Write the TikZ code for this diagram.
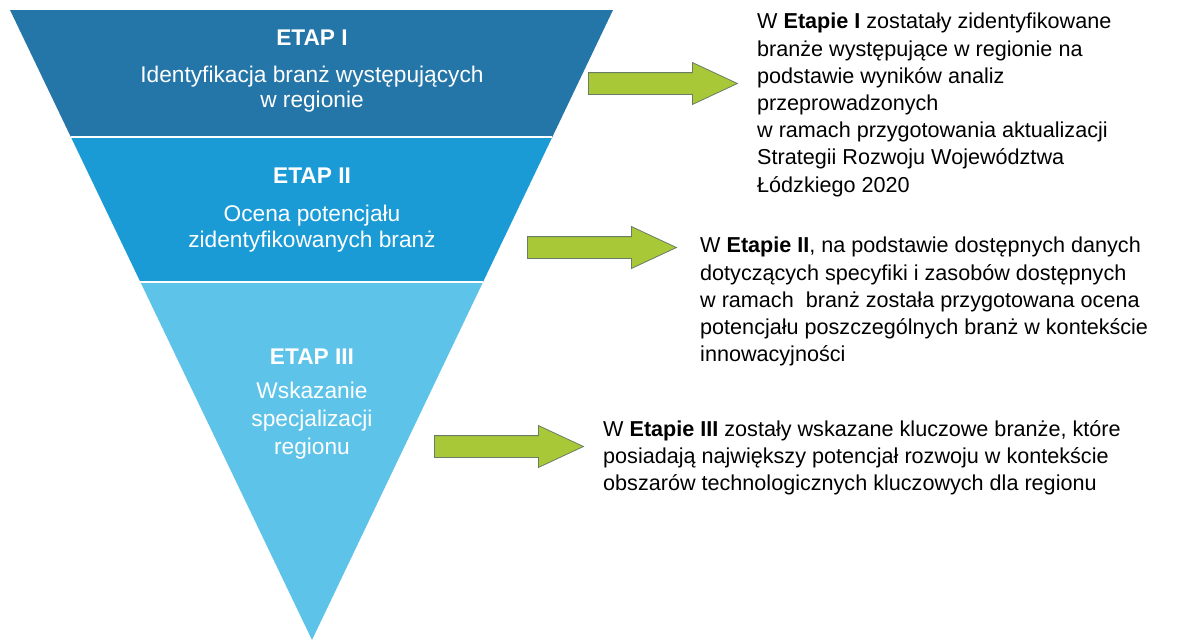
\documentclass[tikz,border=0pt]{standalone}
\usepackage{fontspec}
\setmainfont{Liberation Sans}
\usetikzlibrary{calc}
\usetikzlibrary{shapes.arrows}
\definecolor{etapone}{RGB}{36,117,168}
\definecolor{etaptwo}{RGB}{27,155,214}
\definecolor{etapthree}{RGB}{94,195,232}
\definecolor{arrowfill}{RGB}{168,200,56}
\definecolor{arrowedge}{RGB}{105,125,100}
\newcommand\stagefont[1]{\fontsize{22.7}{#1}\selectfont}
\tikzstyle{cut}=[white,line width=2pt]
\tikzstyle{stage}=[text=white,align=center,inner sep=0pt,anchor=north]
\tikzstyle{note}=[align=left,inner sep=0pt,anchor=north west,font=\fontsize{21.6}{27.2}\selectfont]
\tikzstyle{pointer}=[single arrow,draw=arrowedge,fill=arrowfill,line width=.8pt,
  inner sep=0pt,inner ysep=10.5pt,minimum height=149pt,
  single arrow head extend=10pt,single arrow tip angle=50,single arrow head indent=0pt,anchor=tail]

\begin{document}
\begin{tikzpicture}[x=1pt,y=-1pt]
	\useasboundingbox (0,0) rectangle (1182,641);
	% funnel
	\coordinate (tl) at (10,10);
	\coordinate (tr) at (613,10);
	\coordinate (apex) at (312,640);
	\coordinate (l1) at ($(tl)!0.2016!(apex)$);
	\coordinate (r1) at ($(tr)!0.2016!(apex)$);
	\coordinate (l2) at ($(tl)!0.4317!(apex)$);
	\coordinate (r2) at ($(tr)!0.4317!(apex)$);
	\fill[etapone]   (tl) -- (tr) -- (r1) -- (l1) -- cycle;
	\fill[etaptwo]   (l1) -- (r1) -- (r2) -- (l2) -- cycle;
	\fill[etapthree] (l2) -- (r2) -- (apex) -- cycle;
	\draw[cut] (l1) -- (r1);
	\draw[cut] (l2) -- (r2);

	\node[stage,font=\stagefont{25}] (etap1) at (312,30)
		{\textbf{ETAP I}\\[12pt]Identyfikacja branż występujących\\w regionie};
	\node[stage,font=\stagefont{26}] (etap2) at (312,168)
		{\textbf{ETAP II}\\[12pt]Ocena potencjału\\zidentyfikowanych branż};
	\node[stage,font=\stagefont{28}] (etap3) at (312,349)
		{\textbf{ETAP III}\\[6pt]Wskazanie\\specjalizacji\\regionu};

	% arrows
	\node[pointer] (strzalka1) at (588,83.5) {};
	\node[pointer] (strzalka2) at (527,247.5) {};
	\node[pointer] (strzalka3) at (434,446.5) {};

	% descriptions
	\node[note] (opis1) at (757,13) {W \textbf{Etapie I} zostatały zidentyfikowane\\
		branże występujące w regionie na\\podstawie wyników analiz\\przeprowadzonych\\
		w ramach przygotowania aktualizacji\\Strategii Rozwoju Województwa\\Łódzkiego 2020};
	\node[note] (opis2) at (700,237) {W \textbf{Etapie II}, na podstawie dostępnych danych\\
		dotyczących specyfiki i zasobów dostępnych\\w ramach\ \ branż została przygotowana ocena\\
		potencjału poszczególnych branż w kontekście\\innowacyjności};
	\node[note] (opis3) at (603,420) {W \textbf{Etapie III} zostały wskazane kluczowe branże, które\\
		posiadają największy potencjał rozwoju w kontekście\\
		obszarów technologicznych kluczowych dla regionu};
\end{tikzpicture}
\end{document}
